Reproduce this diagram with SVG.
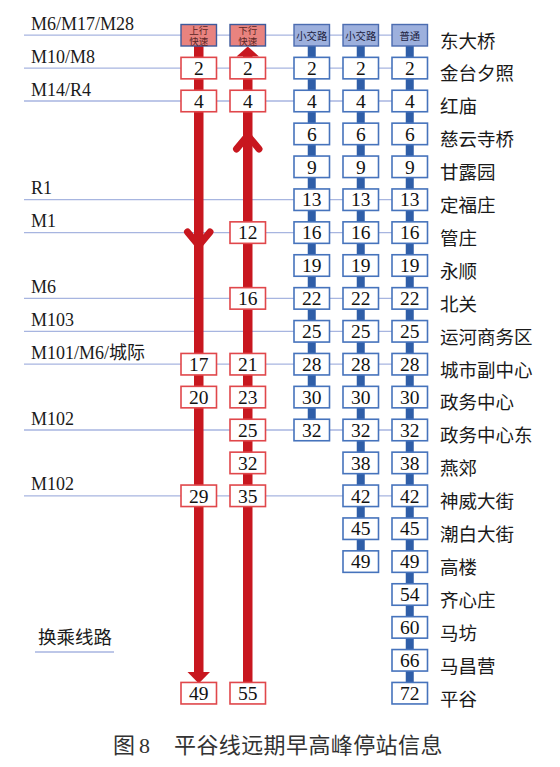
<svg xmlns="http://www.w3.org/2000/svg" width="560" height="767" viewBox="0 0 560 767">
<defs>
<style>
.hl{stroke:#A7B5E0;stroke-width:1.3;fill:none}
.rs{fill:#C8171F}
.bs{fill:#2F5EA8}
.chev{fill:none;stroke:#C8171F;stroke-width:7;stroke-linecap:round;stroke-linejoin:miter}
.rb{fill:#fff;stroke:#E0474B;stroke-width:1.6}
.bb{fill:#fff;stroke:#4673BC;stroke-width:1.6}
.rh{fill:#E8837F;stroke:#3E5A9C;stroke-width:1.4}
.bh{fill:#9DB0DD;stroke:#4B6CB0;stroke-width:1.4}
.num{font-family:"Liberation Serif",serif;font-size:19.5px;fill:#111;text-anchor:middle}
.ht{font-family:"Liberation Serif","Noto Sans CJK SC",sans-serif;font-size:9.5px;fill:#5A2626;text-anchor:middle}
.bt{font-family:"Liberation Serif","Noto Sans CJK SC",sans-serif;font-size:10.3px;fill:#1C2240;text-anchor:middle}
.st{font-family:"Liberation Serif","Noto Sans CJK SC",sans-serif;font-size:18.5px;fill:#1a1a1a}
.lb{font-family:"Liberation Serif",serif;font-size:18px;fill:#1a1a1a}
.cap{font-family:"Liberation Serif","Noto Sans CJK SC",serif;font-size:22px;fill:#333}
</style>
</defs>
<rect width="560" height="767" fill="#fff"/>

<g id="connectors">
<!-- transfer lines -->
<line class="hl" x1="24" y1="35.2" x2="392" y2="35.2"/>
<line class="hl" x1="24" y1="68.1" x2="392" y2="68.1"/>
<line class="hl" x1="24" y1="101" x2="392" y2="101"/>
<line class="hl" x1="24" y1="199.7" x2="392" y2="199.7"/>
<line class="hl" x1="24" y1="232.6" x2="392" y2="232.6"/>
<line class="hl" x1="24" y1="298.4" x2="392" y2="298.4"/>
<line class="hl" x1="24" y1="331.3" x2="392" y2="331.3"/>
<line class="hl" x1="24" y1="364.2" x2="392" y2="364.2"/>
<line class="hl" x1="24" y1="430" x2="392" y2="430"/>
<line class="hl" x1="24" y1="495.8" x2="392" y2="495.8"/>
<!-- blue trunks -->
<rect class="bs" x="307.75" y="46" width="8" height="384"/>
<rect class="bs" x="356.75" y="46" width="8" height="516"/>
<rect class="bs" x="405.75" y="46" width="8" height="647"/>
<!-- red trunks -->
<rect class="rs" x="194" y="46" width="9.5" height="627"/>
<polygon class="rs" points="187.5,672 210,672 198.75,683.5"/>
<polyline class="chev" points="187.5,232 198.75,245.5 210,232"/>
<rect class="rs" x="243" y="55" width="9.5" height="628"/>
<polygon class="rs" points="236.5,56.5 259,56.5 247.75,46.5"/>
<polyline class="chev" points="236.5,149 247.75,135.5 259,149"/>
</g>

<g id="legend-lines">
<text class="lb" x="31" y="29.5">M6/M17/M28</text>
<text class="lb" x="31" y="62.5">M10/M8</text>
<text class="lb" x="31" y="95.5">M14/R4</text>
<text class="lb" x="31" y="194">R1</text>
<text class="lb" x="31" y="227">M1</text>
<text class="lb" x="31" y="293">M6</text>
<text class="lb" x="31" y="326">M103</text>
<text class="lb" x="31" y="358.5">M101/M6/<tspan font-family="'Liberation Serif','Noto Sans CJK SC',serif">城际</tspan></text>
<text class="lb" x="31" y="424.5">M102</text>
<text class="lb" x="31" y="490">M102</text>
</g>

<g id="legend">
<text class="st" x="38" y="644">换乘线路</text>
<line class="hl" x1="35" y1="652" x2="114" y2="652"/>
</g>

<!-- headers -->
<g id="h-up"><rect class="rh" x="181" y="24.5" width="35.5" height="21.5"/><text class="ht" x="198.75" y="34">上行</text><text class="ht" x="198.75" y="44.5">快速</text></g>
<g id="h-down"><rect class="rh" x="230" y="24.5" width="35.5" height="21.5"/><text class="ht" x="247.75" y="34">下行</text><text class="ht" x="247.75" y="44.5">快速</text></g>
<g id="h-s1"><rect class="bh" x="294" y="24.5" width="35.5" height="21.5"/><text class="bt" x="311.75" y="39.5">小交路</text></g>
<g id="h-s2"><rect class="bh" x="343" y="24.5" width="35.5" height="21.5"/><text class="bt" x="360.75" y="39.5">小交路</text></g>
<g id="h-n"><rect class="bh" x="392" y="24.5" width="35.5" height="21.5"/><text class="bt" x="409.75" y="39.5">普通</text></g>

<!-- red column 1 (上行快速) -->
<g id="u1"><rect class="rb" x="181" y="57.35" width="35.5" height="21.5"/><text class="num" x="198.75" y="74.8">2</text></g>
<g id="u2"><rect class="rb" x="181" y="90.25" width="35.5" height="21.5"/><text class="num" x="198.75" y="107.7">4</text></g>
<g id="u10"><rect class="rb" x="181" y="353.45" width="35.5" height="21.5"/><text class="num" x="198.75" y="370.9">17</text></g>
<g id="u11"><rect class="rb" x="181" y="386.35" width="35.5" height="21.5"/><text class="num" x="198.75" y="403.8">20</text></g>
<g id="u14"><rect class="rb" x="181" y="485.05" width="35.5" height="21.5"/><text class="num" x="198.75" y="502.5">29</text></g>
<g id="u20"><rect class="rb" x="181" y="682.45" width="35.5" height="21.5"/><text class="num" x="198.75" y="699.9">49</text></g>

<!-- red column 2 (下行快速) -->
<g id="d1"><rect class="rb" x="230" y="57.35" width="35.5" height="21.5"/><text class="num" x="247.75" y="74.8">2</text></g>
<g id="d2"><rect class="rb" x="230" y="90.25" width="35.5" height="21.5"/><text class="num" x="247.75" y="107.7">4</text></g>
<g id="d6"><rect class="rb" x="230" y="221.85" width="35.5" height="21.5"/><text class="num" x="247.75" y="239.3">12</text></g>
<g id="d8"><rect class="rb" x="230" y="287.65" width="35.5" height="21.5"/><text class="num" x="247.75" y="305.1">16</text></g>
<g id="d10"><rect class="rb" x="230" y="353.45" width="35.5" height="21.5"/><text class="num" x="247.75" y="370.9">21</text></g>
<g id="d11"><rect class="rb" x="230" y="386.35" width="35.5" height="21.5"/><text class="num" x="247.75" y="403.8">23</text></g>
<g id="d12"><rect class="rb" x="230" y="419.25" width="35.5" height="21.5"/><text class="num" x="247.75" y="436.7">25</text></g>
<g id="d13"><rect class="rb" x="230" y="452.15" width="35.5" height="21.5"/><text class="num" x="247.75" y="469.6">32</text></g>
<g id="d14"><rect class="rb" x="230" y="485.05" width="35.5" height="21.5"/><text class="num" x="247.75" y="502.5">35</text></g>
<g id="d20"><rect class="rb" x="230" y="682.45" width="35.5" height="21.5"/><text class="num" x="247.75" y="699.9">55</text></g>

<!-- blue column 1 -->
<g id="a1"><rect class="bb" x="294" y="57.35" width="35.5" height="21.5"/><text class="num" x="311.75" y="74.8">2</text></g>
<g id="a2"><rect class="bb" x="294" y="90.25" width="35.5" height="21.5"/><text class="num" x="311.75" y="107.7">4</text></g>
<g id="a3"><rect class="bb" x="294" y="123.15" width="35.5" height="21.5"/><text class="num" x="311.75" y="140.6">6</text></g>
<g id="a4"><rect class="bb" x="294" y="156.05" width="35.5" height="21.5"/><text class="num" x="311.75" y="173.5">9</text></g>
<g id="a5"><rect class="bb" x="294" y="188.95" width="35.5" height="21.5"/><text class="num" x="311.75" y="206.4">13</text></g>
<g id="a6"><rect class="bb" x="294" y="221.85" width="35.5" height="21.5"/><text class="num" x="311.75" y="239.3">16</text></g>
<g id="a7"><rect class="bb" x="294" y="254.75" width="35.5" height="21.5"/><text class="num" x="311.75" y="272.2">19</text></g>
<g id="a8"><rect class="bb" x="294" y="287.65" width="35.5" height="21.5"/><text class="num" x="311.75" y="305.1">22</text></g>
<g id="a9"><rect class="bb" x="294" y="320.55" width="35.5" height="21.5"/><text class="num" x="311.75" y="338">25</text></g>
<g id="a10"><rect class="bb" x="294" y="353.45" width="35.5" height="21.5"/><text class="num" x="311.75" y="370.9">28</text></g>
<g id="a11"><rect class="bb" x="294" y="386.35" width="35.5" height="21.5"/><text class="num" x="311.75" y="403.8">30</text></g>
<g id="a12"><rect class="bb" x="294" y="419.25" width="35.5" height="21.5"/><text class="num" x="311.75" y="436.7">32</text></g>

<!-- blue column 2 -->
<g id="b1"><rect class="bb" x="343" y="57.35" width="35.5" height="21.5"/><text class="num" x="360.75" y="74.8">2</text></g>
<g id="b2"><rect class="bb" x="343" y="90.25" width="35.5" height="21.5"/><text class="num" x="360.75" y="107.7">4</text></g>
<g id="b3"><rect class="bb" x="343" y="123.15" width="35.5" height="21.5"/><text class="num" x="360.75" y="140.6">6</text></g>
<g id="b4"><rect class="bb" x="343" y="156.05" width="35.5" height="21.5"/><text class="num" x="360.75" y="173.5">9</text></g>
<g id="b5"><rect class="bb" x="343" y="188.95" width="35.5" height="21.5"/><text class="num" x="360.75" y="206.4">13</text></g>
<g id="b6"><rect class="bb" x="343" y="221.85" width="35.5" height="21.5"/><text class="num" x="360.75" y="239.3">16</text></g>
<g id="b7"><rect class="bb" x="343" y="254.75" width="35.5" height="21.5"/><text class="num" x="360.75" y="272.2">19</text></g>
<g id="b8"><rect class="bb" x="343" y="287.65" width="35.5" height="21.5"/><text class="num" x="360.75" y="305.1">22</text></g>
<g id="b9"><rect class="bb" x="343" y="320.55" width="35.5" height="21.5"/><text class="num" x="360.75" y="338">25</text></g>
<g id="b10"><rect class="bb" x="343" y="353.45" width="35.5" height="21.5"/><text class="num" x="360.75" y="370.9">28</text></g>
<g id="b11"><rect class="bb" x="343" y="386.35" width="35.5" height="21.5"/><text class="num" x="360.75" y="403.8">30</text></g>
<g id="b12"><rect class="bb" x="343" y="419.25" width="35.5" height="21.5"/><text class="num" x="360.75" y="436.7">32</text></g>
<g id="b13"><rect class="bb" x="343" y="452.15" width="35.5" height="21.5"/><text class="num" x="360.75" y="469.6">38</text></g>
<g id="b14"><rect class="bb" x="343" y="485.05" width="35.5" height="21.5"/><text class="num" x="360.75" y="502.5">42</text></g>
<g id="b15"><rect class="bb" x="343" y="517.95" width="35.5" height="21.5"/><text class="num" x="360.75" y="535.4">45</text></g>
<g id="b16"><rect class="bb" x="343" y="550.85" width="35.5" height="21.5"/><text class="num" x="360.75" y="568.3">49</text></g>

<!-- blue column 3 (普通) -->
<g id="c1"><rect class="bb" x="392" y="57.35" width="35.5" height="21.5"/><text class="num" x="409.75" y="74.8">2</text></g>
<g id="c2"><rect class="bb" x="392" y="90.25" width="35.5" height="21.5"/><text class="num" x="409.75" y="107.7">4</text></g>
<g id="c3"><rect class="bb" x="392" y="123.15" width="35.5" height="21.5"/><text class="num" x="409.75" y="140.6">6</text></g>
<g id="c4"><rect class="bb" x="392" y="156.05" width="35.5" height="21.5"/><text class="num" x="409.75" y="173.5">9</text></g>
<g id="c5"><rect class="bb" x="392" y="188.95" width="35.5" height="21.5"/><text class="num" x="409.75" y="206.4">13</text></g>
<g id="c6"><rect class="bb" x="392" y="221.85" width="35.5" height="21.5"/><text class="num" x="409.75" y="239.3">16</text></g>
<g id="c7"><rect class="bb" x="392" y="254.75" width="35.5" height="21.5"/><text class="num" x="409.75" y="272.2">19</text></g>
<g id="c8"><rect class="bb" x="392" y="287.65" width="35.5" height="21.5"/><text class="num" x="409.75" y="305.1">22</text></g>
<g id="c9"><rect class="bb" x="392" y="320.55" width="35.5" height="21.5"/><text class="num" x="409.75" y="338">25</text></g>
<g id="c10"><rect class="bb" x="392" y="353.45" width="35.5" height="21.5"/><text class="num" x="409.75" y="370.9">28</text></g>
<g id="c11"><rect class="bb" x="392" y="386.35" width="35.5" height="21.5"/><text class="num" x="409.75" y="403.8">30</text></g>
<g id="c12"><rect class="bb" x="392" y="419.25" width="35.5" height="21.5"/><text class="num" x="409.75" y="436.7">32</text></g>
<g id="c13"><rect class="bb" x="392" y="452.15" width="35.5" height="21.5"/><text class="num" x="409.75" y="469.6">38</text></g>
<g id="c14"><rect class="bb" x="392" y="485.05" width="35.5" height="21.5"/><text class="num" x="409.75" y="502.5">42</text></g>
<g id="c15"><rect class="bb" x="392" y="517.95" width="35.5" height="21.5"/><text class="num" x="409.75" y="535.4">45</text></g>
<g id="c16"><rect class="bb" x="392" y="550.85" width="35.5" height="21.5"/><text class="num" x="409.75" y="568.3">49</text></g>
<g id="c17"><rect class="bb" x="392" y="583.75" width="35.5" height="21.5"/><text class="num" x="409.75" y="601.2">54</text></g>
<g id="c18"><rect class="bb" x="392" y="616.65" width="35.5" height="21.5"/><text class="num" x="409.75" y="634.1">60</text></g>
<g id="c19"><rect class="bb" x="392" y="649.55" width="35.5" height="21.5"/><text class="num" x="409.75" y="667">66</text></g>
<g id="c20"><rect class="bb" x="392" y="682.45" width="35.5" height="21.5"/><text class="num" x="409.75" y="699.9">72</text></g>

<g id="stations">
<text class="st" x="440" y="47.5">东大桥</text>
<text class="st" x="440" y="80.4">金台夕照</text>
<text class="st" x="440" y="113.3">红庙</text>
<text class="st" x="440" y="146.2">慈云寺桥</text>
<text class="st" x="440" y="179.1">甘露园</text>
<text class="st" x="440" y="212">定福庄</text>
<text class="st" x="440" y="244.9">管庄</text>
<text class="st" x="440" y="277.8">永顺</text>
<text class="st" x="440" y="310.7">北关</text>
<text class="st" x="440" y="343.6">运河商务区</text>
<text class="st" x="440" y="376.5">城市副中心</text>
<text class="st" x="440" y="409.4">政务中心</text>
<text class="st" x="440" y="442.3">政务中心东</text>
<text class="st" x="440" y="475.2">燕郊</text>
<text class="st" x="440" y="508.1">神威大街</text>
<text class="st" x="440" y="541">潮白大街</text>
<text class="st" x="440" y="573.9">高楼</text>
<text class="st" x="440" y="606.8">齐心庄</text>
<text class="st" x="440" y="639.7">马坊</text>
<text class="st" x="440" y="672.6">马昌营</text>
<text class="st" x="440" y="705.5">平谷</text>
</g>

<g id="caption">
<text class="cap" x="113" y="753">图</text>
<text class="cap" x="139" y="753">8</text>
<text class="cap" x="174" y="753" letter-spacing="0.4">平谷线远期早高峰停站信息</text>
</g>
</svg>
